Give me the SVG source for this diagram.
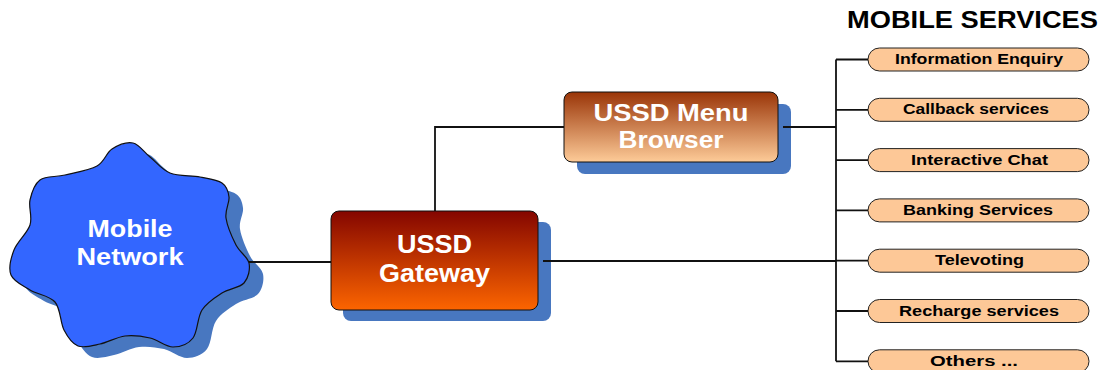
<svg xmlns="http://www.w3.org/2000/svg" xmlns:xlink="http://www.w3.org/1999/xlink" width="1107" height="370" viewBox="0 0 1107 370">
  <style>
    .shadow { fill: #4877c0; }
    .label { font-family: "Liberation Sans", Arial, sans-serif; font-weight: bold; text-anchor: middle; }
    .big { fill: #ffffff; }
    .pill { fill: #fdc897; stroke: #222; stroke-width: 1; }
    .pill-text { font-size: 15px; fill: #000; }
    .wire { fill: none; stroke: #111; stroke-width: 1.8; }
    .box { stroke: #111; stroke-width: 1; }
  </style>
  <defs>
    <linearGradient id="gwFill" x1="0" y1="0" x2="0" y2="1">
      <stop offset="0" stop-color="#840600"/>
      <stop offset="1" stop-color="#fc6500"/>
    </linearGradient>
    <linearGradient id="menuFill" x1="0" y1="0" x2="0" y2="1">
      <stop offset="0" stop-color="#9a3508"/>
      <stop offset="1" stop-color="#fdcb98"/>
    </linearGradient>
    <!-- wavy seven-lobed outline of the network cloud -->
    <path id="cloudShape" d="M133,143 C139.3,144.3 143.8,152 150,157 C156.2,162 161.7,169.7 170,173 C178.3,176.3 191.3,175.3 200,177 C208.7,178.7 217.2,179.7 222,183 C226.8,186.3 228.3,191.2 229,197 C229.7,202.8 224.8,210 226,218 C227.2,226 232.2,237.5 236,245 C239.8,252.5 247.7,256.7 249,263 C250.3,269.3 248.5,278 244,283 C239.5,288 229,288.5 222,293 C215,297.5 206.8,302.5 202,310 C197.2,317.5 197.8,331.8 193,338 C188.2,344.2 180.2,347 173,347 C165.8,347 158,339.8 150,338 C142,336.2 133.3,335 125,336 C116.7,337 107.8,342.3 100,344 C92.2,345.7 84,348.3 78,346 C72,343.7 67.8,337.3 64,330 C60.2,322.7 60.7,308.7 55,302 C49.3,295.3 37.3,294.5 30,290 C22.7,285.5 13.7,281.7 11,275 C8.3,268.3 10.8,258.3 14,250 C17.2,241.7 27.3,233.3 30,225 C32.7,216.7 28.3,207.5 30,200 C31.7,192.5 34.2,184.2 40,180 C45.8,175.8 55.5,177.3 65,175 C74.5,172.7 89.2,170.3 97,166 C104.8,161.7 106,152.8 112,149 C118,145.2 126.7,141.7 133,143 Z"/>
  </defs>

  <rect width="1107" height="370" fill="#ffffff"/>

  <!-- Mobile network cloud -->
  <g id="mobile-network">
    <use xlink:href="#cloudShape" class="shadow" transform="translate(14,11)"/>
    <use xlink:href="#cloudShape" fill="#3366ff" stroke="#111" stroke-width="1.2"/>
    <text class="label big" x="130" y="237" font-size="23" textLength="85" lengthAdjust="spacingAndGlyphs">Mobile</text>
    <text class="label big" x="130" y="265" font-size="23" textLength="107" lengthAdjust="spacingAndGlyphs">Network</text>
  </g>

  <!-- USSD gateway -->
  <g id="ussd-gateway">
    <rect class="shadow" x="343" y="222" width="208" height="99" rx="8"/>
    <rect class="box" x="331" y="211" width="207" height="99" rx="8" fill="url(#gwFill)"/>
    <text class="label big" x="434.5" y="253" font-size="25" textLength="75" lengthAdjust="spacingAndGlyphs">USSD</text>
    <text class="label big" x="434.5" y="282" font-size="25" textLength="111" lengthAdjust="spacingAndGlyphs">Gateway</text>
  </g>

  <!-- USSD menu browser -->
  <g id="ussd-menu-browser">
    <rect class="shadow" x="577" y="104" width="214" height="70" rx="8"/>
    <rect class="box" x="564" y="92" width="214" height="70" rx="8" fill="url(#menuFill)"/>
    <text class="label big" x="671" y="121" font-size="23" textLength="155" lengthAdjust="spacingAndGlyphs">USSD Menu</text>
    <text class="label big" x="671" y="148" font-size="23" textLength="105" lengthAdjust="spacingAndGlyphs">Browser</text>
  </g>

  <!-- Service list heading -->
  <g id="services-title">
    <text class="label" x="972.5" y="28" font-size="23" fill="#000" textLength="251" lengthAdjust="spacingAndGlyphs">MOBILE SERVICES</text>
  </g>

  <!-- Service pills -->
  <g id="svc-information-enquiry">
    <rect class="pill" x="868" y="48" width="221" height="23" rx="11.5"/>
    <text class="label pill-text" x="979" y="64" textLength="168" lengthAdjust="spacingAndGlyphs">Information Enquiry</text>
  </g>
  <g id="svc-callback">
    <rect class="pill" x="868" y="98.3" width="221" height="23" rx="11.5"/>
    <text class="label pill-text" x="976" y="114.3" textLength="146" lengthAdjust="spacingAndGlyphs">Callback services</text>
  </g>
  <g id="svc-interactive-chat">
    <rect class="pill" x="868" y="148.6" width="221" height="23" rx="11.5"/>
    <text class="label pill-text" x="979.5" y="164.6" textLength="137" lengthAdjust="spacingAndGlyphs">Interactive Chat</text>
  </g>
  <g id="svc-banking">
    <rect class="pill" x="868" y="198.9" width="221" height="23" rx="11.5"/>
    <text class="label pill-text" x="978" y="214.9" textLength="150" lengthAdjust="spacingAndGlyphs">Banking Services</text>
  </g>
  <g id="svc-televoting">
    <rect class="pill" x="868" y="249.2" width="221" height="23" rx="11.5"/>
    <text class="label pill-text" x="979.5" y="265.2" textLength="89" lengthAdjust="spacingAndGlyphs">Televoting</text>
  </g>
  <g id="svc-recharge">
    <rect class="pill" x="868" y="299.5" width="221" height="23" rx="11.5"/>
    <text class="label pill-text" x="979" y="315.5" textLength="160" lengthAdjust="spacingAndGlyphs">Recharge services</text>
  </g>
  <g id="svc-others">
    <rect class="pill" x="868" y="349.8" width="221" height="23" rx="11.5"/>
    <text class="label pill-text" x="974" y="365.8" textLength="88" lengthAdjust="spacingAndGlyphs">Others ...</text>
  </g>

  <!-- Connectors -->
  <g id="connectors" class="wire">
    <path d="M249,262 H331"/>
    <path d="M435,211 V127 H564"/>
    <path d="M783,127 H836"/>
    <path d="M543,261 H836"/>
    <path d="M836,59.5 V361.3"/>
    <path d="M836,59.5 H868 M836,109.8 H868 M836,160.1 H868 M836,210.4 H868 M836,260.7 H868 M836,311 H868 M836,361.3 H868"/>
  </g>
</svg>
